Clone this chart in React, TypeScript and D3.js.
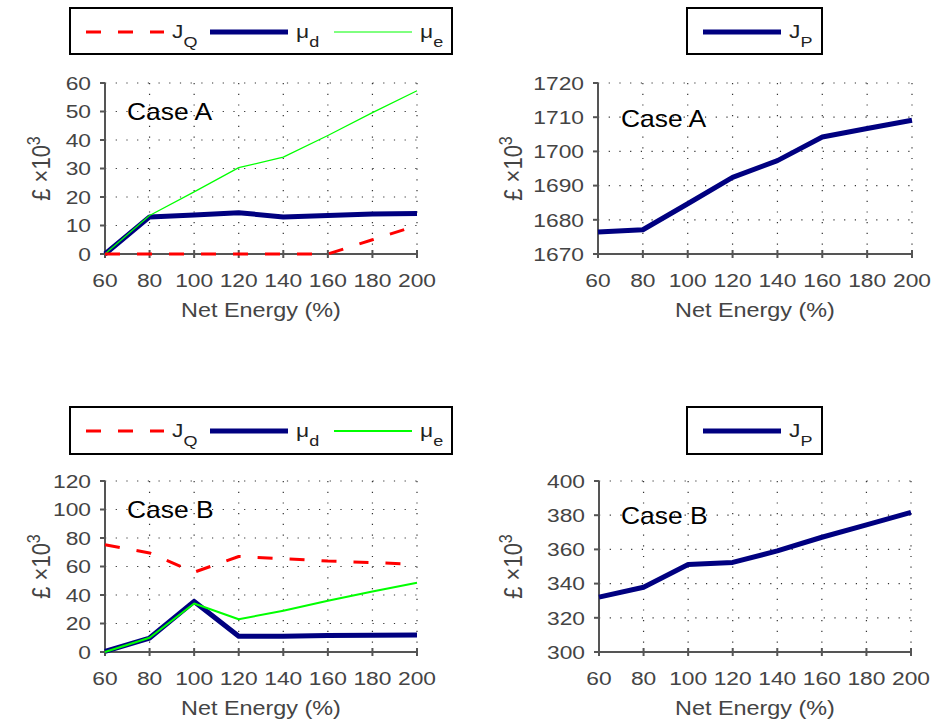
import React from 'react';
import * as d3 from 'd3';

const netEnergy = [60, 80, 100, 120, 140, 160, 180, 200];

// Case A (£ x10^3)
const caseAJQ = [0, 0, 0, 0, 0, 0, 5, 10];
const caseAMuD = [0, 13, 13.7, 14.5, 13, 13.5, 14, 14.2];
const caseAMuE = [0, 13.5, 21.8, 30.3, 34, 41.6, 49.6, 57.3];
const caseAJP = [1676.4, 1677.1, 1684.7, 1692.4, 1697.3, 1704.2, 1706.7, 1709.1];

// Case B (£ x10^3)
const caseBJQ = [75.2, 69.5, 56, 67, 65.5, 63.8, 62.8, 61.5];
const caseBMuD = [0.5, 9.8, 35.5, 11, 11, 11.5, 11.7, 12];
const caseBMuE = [0, 10, 34, 23, 29, 36, 42.5, 48.6];
const caseBJP = [332.1, 337.9, 351.2, 352.4, 359.1, 367.1, 374.3, 381.7];

const yTicksA1 = [0, 10, 20, 30, 40, 50, 60];
const yTicksA2 = [1670, 1680, 1690, 1700, 1710, 1720];
const yTicksB1 = [0, 20, 40, 60, 80, 100, 120];
const yTicksB2 = [300, 320, 340, 360, 380, 400];

const FONT = '"Liberation Sans", Arial, sans-serif';
const AXIS = '#555';
const NAVY = '#000080';
const RED = '#ff0000';
const GREEN = '#00ff00';
const SX = 1.2; // the figure's text is a bit wider than plain Arial

type Series = { values: number[]; color: string; width: number; dash?: string };

// text stretched horizontally around its anchor point
function T(props: { x: number; y: number; size: number; fill: string; anchor?: string; sx?: number; children: React.ReactNode }) {
  const { x, y, size, fill, anchor, sx, children } = props;
  return (
    <text transform={`translate(${x},${y}) scale(${sx || SX},1)`} textAnchor={anchor || 'start'}
      fontSize={size} fill={fill} fontFamily={FONT}>{children}</text>
  );
}

function Panel(props: {
  x0: number; x1: number; y0: number; y1: number; yLabelX: number;
  yTicks: number[]; series: Series[]; label: string; labelX: number; labelY: number;
}) {
  const { x0, x1, y0, y1, yLabelX, yTicks, series, label, labelX, labelY } = props;
  const x = d3.scaleLinear().domain([60, 200]).range([x0, x1]);
  const y = d3.scaleLinear().domain([yTicks[0], yTicks[yTicks.length - 1]]).range([y1, y0]);
  const line = d3.line<number>().x((d, i) => x(netEnergy[i])).y(d => y(d));
  const midX = (x0 + x1) / 2;
  const midY = (y0 + y1) / 2;
  return (
    <g>
      {/* grid */}
      {netEnergy.slice(1).map(v => (
        <line key={'gx' + v} x1={x(v)} x2={x(v)} y1={y0} y2={y1} stroke="#333" strokeWidth={1.2} strokeDasharray="1.2,9.5" />
      ))}
      {yTicks.slice(1).map(v => (
        <line key={'gy' + v} x1={x0} x2={x1} y1={y(v)} y2={y(v)} stroke="#333" strokeWidth={1.2} strokeDasharray="1.2,9.5" />
      ))}
      {/* axes */}
      <line x1={x0} x2={x0} y1={y0} y2={y1 + 1} stroke={AXIS} strokeWidth={2} />
      <line x1={x0 - 1} x2={x1 + 1} y1={y1} y2={y1} stroke={AXIS} strokeWidth={2} />
      {yTicks.map(v => (
        <g key={'ty' + v}>
          <line x1={x0 - 5} x2={x0} y1={y(v)} y2={y(v)} stroke={AXIS} strokeWidth={2} />
          <T x={x0 - 14} y={y(v) + 6.8} size={19} fill="#444" anchor="end">{v}</T>
        </g>
      ))}
      {netEnergy.map(v => (
        <g key={'tx' + v}>
          <line x1={x(v)} x2={x(v)} y1={y1 - 4} y2={y1 + 4} stroke={AXIS} strokeWidth={2} />
          <T x={x(v)} y={y1 + 33} size={19} fill="#444" anchor="middle">{v}</T>
        </g>
      ))}
      <T x={midX} y={y1 + 63} size={19.5} fill="#444" anchor="middle">Net Energy (%)</T>
      <text transform={`translate(${yLabelX},${midY}) rotate(-90) scale(1,1.15)`} textAnchor="middle" fontSize={22} fill="#444" fontFamily={FONT}>
        £ ×10<tspan dy={-9} fontSize={16}>3</tspan>
      </text>
      <T x={labelX} y={labelY} size={23} fill="#000" sx={1.15}>{label}</T>
      {/* series */}
      {series.map((s, i) => (
        <path key={'s' + i} d={line(s.values) || ''} fill="none" stroke={s.color} strokeWidth={s.width}
          strokeDasharray={s.dash} strokeLinejoin="round" />
      ))}
    </g>
  );
}

type LegendItem = { main: string; sub: string; color: string; width: number; dash?: string };

function Legend(props: { x: number; y: number; w: number; h: number; items: LegendItem[]; step: number }) {
  const { x, y, w, h, items, step } = props;
  const ly = y + 24;
  return (
    <g>
      <rect x={x} y={y} width={w} height={h} fill="#fff" stroke="#000" strokeWidth={2} />
      {items.map((it, i) => {
        const lx = x + 16 + i * step;
        return (
          <g key={it.main + it.sub}>
            <line x1={lx} x2={lx + 78} y1={ly} y2={ly} stroke={it.color} strokeWidth={it.width} strokeDasharray={it.dash} />
            <T x={lx + 86} y={ly + 6} size={19} fill="#222">
              {it.main}<tspan dy={9} fontSize={15}>{it.sub}</tspan>
            </T>
          </g>
        );
      })}
    </g>
  );
}

export default function App() {
  const legendA: LegendItem[] = [
    { main: 'J', sub: 'Q', color: RED, width: 3, dash: '15,17' },
    { main: 'μ', sub: 'd', color: NAVY, width: 5 },
    { main: 'μ', sub: 'e', color: GREEN, width: 1 },
  ];
  const legendB: LegendItem[] = [
    { main: 'J', sub: 'Q', color: RED, width: 3, dash: '15,17' },
    { main: 'μ', sub: 'd', color: NAVY, width: 5 },
    { main: 'μ', sub: 'e', color: GREEN, width: 2 },
  ];
  const legendP: LegendItem[] = [{ main: 'J', sub: 'P', color: NAVY, width: 5 }];
  return (
    <svg width={936} height={727} style={{ position: 'absolute', left: 0, top: 0, background: '#fff' }}>
      <Legend x={70} y={8} w={382} h={46} items={legendA} step={124} />
      <Legend x={687} y={8} w={135} h={46} items={legendP} step={0} />
      <Legend x={70} y={407} w={382} h={47} items={legendB} step={124} />
      <Legend x={687} y={407} w={135} h={47} items={legendP} step={0} />

      <Panel x0={105} x1={417} y0={83} y1={254} yLabelX={50} yTicks={yTicksA1} label="Case A" labelX={127} labelY={120}
        series={[
          { values: caseAMuD, color: NAVY, width: 5 },
          { values: caseAMuE, color: GREEN, width: 1.2 },
          { values: caseAJQ, color: RED, width: 3, dash: '15,17' },
        ]} />
      <Panel x0={598} x1={912} y0={83} y1={254} yLabelX={522} yTicks={yTicksA2} label="Case A" labelX={621} labelY={127}
        series={[{ values: caseAJP, color: NAVY, width: 5 }]} />
      <Panel x0={105} x1={417} y0={481} y1={652} yLabelX={50} yTicks={yTicksB1} label="Case B" labelX={127} labelY={518}
        series={[
          { values: caseBMuD, color: NAVY, width: 5 },
          { values: caseBMuE, color: GREEN, width: 2 },
          { values: caseBJQ, color: RED, width: 3, dash: '15,17' },
        ]} />
      <Panel x0={599} x1={911} y0={481} y1={652} yLabelX={522} yTicks={yTicksB2} label="Case B" labelX={621} labelY={524}
        series={[{ values: caseBJP, color: NAVY, width: 5 }]} />
    </svg>
  );
}
